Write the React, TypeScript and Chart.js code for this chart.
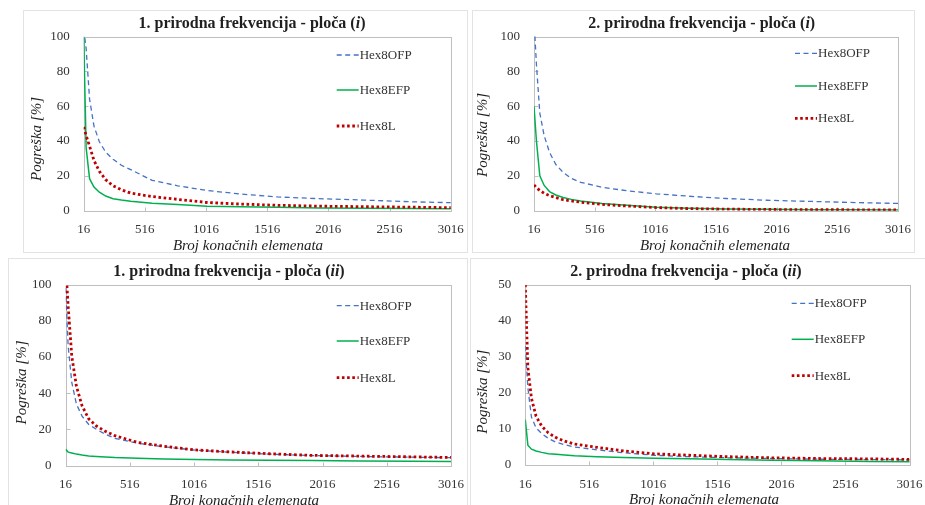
import React, { useEffect, useRef } from 'react';
import { Chart, registerables } from 'chart.js';

Chart.register(...registerables);

// ---------- data ----------
const elementCounts = [16, 36, 64, 100, 144, 196, 256, 324, 400, 576, 784, 1024, 1296, 1600, 1936, 2304, 2704, 3136];
const xTickValues = [16, 516, 1016, 1516, 2016, 2516, 3016];
const xTickLabels = ['16', '516', '1016', '1516', '2016', '2516', '3016'];
const seriesNames = ['Hex8OFP', 'Hex8EFP', 'Hex8L'];

// 1. prirodna frekvencija - ploča (i)
const p1OFP = [104, 93, 64, 48.5, 39.5, 33.5, 29.5, 26, 23.5, 17.3, 14.2, 11.5, 9.5, 7.8, 6.8, 6.0, 5.0, 4.3];
const p1EFP = [100, 36, 18.3, 13.5, 10.5, 8.3, 6.8, 6.0, 5.3, 4.2, 3.4, 2.5, 2.1, 1.8, 1.5, 1.3, 1.15, 1.0];
const p1L = [48, 43, 37, 28.8, 22.5, 17.7, 14.2, 11.9, 10, 8.0, 6.4, 4.6, 3.7, 3.0, 2.5, 2.2, 1.9, 1.5];

// 2. prirodna frekvencija - ploča (i)
const p2OFP = [110, 84, 56, 43, 33.5, 26.5, 22, 18.5, 16.3, 13.5, 11.4, 9.7, 8.3, 7.0, 6.0, 5.3, 4.6, 4.0];
const p2EFP = [60, 40, 20, 14.5, 11, 9, 7.6, 6.5, 5.6, 4.2, 3.1, 2.0, 1.4, 1.0, 0.8, 0.6, 0.5, 0.4];
const p2L = [14.8, 13.2, 11.6, 10.0, 8.6, 7.5, 6.3, 5.6, 4.9, 3.6, 2.7, 1.8, 1.2, 0.9, 0.7, 0.6, 0.5, 0.4];

// 1. prirodna frekvencija - ploča (ii)
const p3OFP = [98, 66, 46, 34, 27.3, 22.7, 20, 17.3, 15, 12.3, 10.3, 8.5, 7.3, 6.3, 5.5, 5.0, 4.6, 4.2];
const p3EFP = [9.0, 7.4, 6.9, 6.3, 5.8, 5.3, 5.0, 4.7, 4.4, 4.0, 3.6, 3.3, 3.1, 2.9, 2.7, 2.5, 2.3, 2.2];
const p3L = [111, 88, 60.5, 43.9, 33, 25.8, 21.8, 19, 16.5, 12.8, 10.6, 8.6, 7.5, 6.5, 5.6, 5.2, 4.8, 4.3];

// 2. prirodna frekvencija - ploča (ii)
const p4OFP = [33, 21.5, 13.3, 10.3, 8.7, 7.4, 6.3, 5.6, 5.0, 4.2, 3.4, 2.7, 2.3, 2.0, 1.8, 1.6, 1.5, 1.4];
const p4EFP = [12.6, 5.5, 4.4, 3.9, 3.5, 3.15, 2.95, 2.75, 2.55, 2.3, 2.05, 1.85, 1.7, 1.5, 1.3, 1.15, 1.0, 0.9];
const p4L = [50, 27, 18.5, 13.5, 10.8, 8.9, 7.6, 6.6, 5.8, 4.9, 3.9, 3.1, 2.7, 2.3, 2.0, 1.8, 1.7, 1.5];

const xAxisTitle = 'Broj konačnih elemenata';
const yAxisTitle = 'Pogreška [%]';

// ---------- styles / layout ----------
const FONT = "'Liberation Serif', 'DejaVu Serif', serif";
const TEXT = '#1f1f1f';
const TICK_TEXT = '#333333';
const seriesStyles = [
  { color: '#4472C4', width: 1.3, dash: [5, 3.5], order: 3 },
  { color: '#00B050', width: 1.5, dash: [] as number[], order: 2 },
  { color: '#C00000', width: 2.8, dash: [2.6, 2.6], order: 1 },
];

const panels = [
  {
    title: [['1. prirodna frekvencija - ploča (', false], ['i', true], [')', false]],
    series: [p1OFP, p1EFP, p1L], yMax: 100, yStep: 20,
    plot: { l: 83.7, t: 36.5, r: 450.7, b: 210.5 },
    frame: { l: 23, t: 10, w: 445, h: 243 },
    titleAt: [252, 24], xTitleAt: [248, 246.5], yTitleAt: [37.5, 139],
    legend: { x: 336.7, ys: [55, 90, 126] },
  },
  {
    title: [['2. prirodna frekvencija - ploča (', false], ['i', true], [')', false]],
    series: [p2OFP, p2EFP, p2L], yMax: 100, yStep: 20,
    plot: { l: 534, t: 36.5, r: 898, b: 210.7 },
    frame: { l: 472, t: 10, w: 443, h: 243 },
    titleAt: [701.7, 24], xTitleAt: [715, 246.5], yTitleAt: [483.5, 135],
    legend: { x: 795, ys: [53.3, 86, 118.3] },
  },
  {
    title: [['1. prirodna frekvencija - ploča (', false], ['ii', true], [')', false]],
    series: [p3OFP, p3EFP, p3L], yMax: 100, yStep: 20,
    plot: { l: 65.6, t: 284.7, r: 451, b: 465.5 },
    frame: { l: 8, t: 258, w: 460, h: 260 },
    titleAt: [229, 271.7], xTitleAt: [244, 501.5], yTitleAt: [21.7, 382.5],
    legend: { x: 336.7, ys: [305.7, 341, 377.7] },
  },
  {
    title: [['2. prirodna frekvencija - ploča (', false], ['ii', true], [')', false]],
    series: [p4OFP, p4EFP, p4L], yMax: 50, yStep: 10,
    plot: { l: 525.3, t: 284.7, r: 909.5, b: 465 },
    frame: { l: 470, t: 258, w: 470, h: 260 },
    titleAt: [686, 271.7], xTitleAt: [704, 500], yTitleAt: [482.7, 391.7],
    legend: { x: 791.7, ys: [303.3, 339.3, 375.7] },
  },
];

const decorPlugin = {
  id: 'panelDecor',
  beforeDatasetsDraw(chart: any, _args: any, opts: any) {
    const { ctx, chartArea: a } = chart;
    const xs = chart.scales.x;
    const ys = chart.scales.y;
    ctx.save();
    ctx.strokeStyle = '#bfbfbf';
    ctx.lineWidth = 1;
    const L = Math.round(a.left) + 0.5;
    const T = Math.round(a.top) + 0.5;
    const R = Math.round(a.right) + 0.5;
    const B = Math.round(a.bottom) + 0.5;
    ctx.strokeRect(L, T, R - L, B - T);
    ctx.beginPath();
    xs.ticks.forEach((t: any) => {
      const px = Math.round(xs.getPixelForValue(t.value)) + 0.5;
      ctx.moveTo(px, B);
      ctx.lineTo(px, B - 4);
    });
    ys.ticks.forEach((t: any) => {
      const py = Math.round(ys.getPixelForValue(t.value)) + 0.5;
      ctx.moveTo(L, py);
      ctx.lineTo(L + 4, py);
    });
    ctx.stroke();
    ctx.restore();
  },
  afterDraw(chart: any, _args: any, opts: any) {
    const { ctx } = chart;
    ctx.save();
    ctx.textBaseline = 'middle';
    ctx.fillStyle = TEXT;
    // title with mixed styles
    const parts = opts.title as [string, boolean][];
    const fontFor = (it: boolean) => `${it ? 'italic ' : ''}bold 16px ${FONT}`;
    let total = 0;
    const widths = parts.map(([s, it]) => {
      ctx.font = fontFor(it);
      const w = ctx.measureText(s).width;
      total += w;
      return w;
    });
    let x = opts.titleAt[0] - total / 2;
    ctx.textAlign = 'left';
    parts.forEach(([s, it], i) => {
      ctx.font = fontFor(it);
      ctx.fillText(s, x, opts.titleAt[1]);
      x += widths[i];
    });
    // axis titles
    ctx.font = `italic 15px ${FONT}`;
    ctx.textAlign = 'center';
    ctx.fillText(xAxisTitle, opts.xTitleAt[0], opts.xTitleAt[1]);
    ctx.save();
    ctx.translate(opts.yTitleAt[0], opts.yTitleAt[1]);
    ctx.rotate(-Math.PI / 2);
    ctx.fillText(yAxisTitle, 0, 0);
    ctx.restore();
    // legend
    ctx.font = `13px ${FONT}`;
    ctx.textAlign = 'left';
    chart.data.datasets.forEach((ds: any, i: number) => {
      const y = opts.legend.ys[i];
      const lx = opts.legend.x;
      ctx.save();
      ctx.strokeStyle = ds.borderColor;
      ctx.lineWidth = ds.borderWidth;
      ctx.setLineDash(ds.borderDash || []);
      ctx.beginPath();
      ctx.moveTo(lx, y);
      ctx.lineTo(lx + 22, y);
      ctx.stroke();
      ctx.restore();
      ctx.fillStyle = TICK_TEXT;
      ctx.fillText(ds.label, lx + 23, y + 0.5);
    });
    ctx.restore();
  },
};

function Panel({ cfg }: { cfg: any }) {
  const ref = useRef<HTMLCanvasElement>(null);
  useEffect(() => {
    const p = cfg.plot;
    const Y_W = 50;
    const X_H = 30;
    const chart = new Chart(ref.current as HTMLCanvasElement, {
      type: 'line',
      data: {
        datasets: cfg.series.map((arr: number[], i: number) => ({
          label: seriesNames[i],
          data: elementCounts.map((x, j) => ({ x, y: arr[j] })),
          borderColor: seriesStyles[i].color,
          borderWidth: seriesStyles[i].width,
          borderDash: seriesStyles[i].dash,
          order: seriesStyles[i].order,
          pointRadius: 0,
          pointHoverRadius: 0,
          tension: 0,
          fill: false,
          clip: 0,
        })),
      },
      options: {
        animation: false,
        responsive: false,
        devicePixelRatio: 1,
        events: [],
        layout: {
          padding: { left: p.l - Y_W, top: p.t, right: 925 - p.r, bottom: 505 - p.b - X_H },
        },
        plugins: {
          legend: { display: false },
          title: { display: false },
          tooltip: { enabled: false },
          panelDecor: {
            title: cfg.title, titleAt: cfg.titleAt, xTitleAt: cfg.xTitleAt,
            yTitleAt: cfg.yTitleAt, legend: cfg.legend,
          },
        } as any,
        scales: {
          x: {
            type: 'linear',
            min: 16,
            max: 3016,
            grid: { display: false, drawTicks: false },
            border: { display: false },
            afterBuildTicks: (s: any) => { s.ticks = xTickValues.map((value) => ({ value })); },
            afterFit: (s: any) => { s.height = X_H; s.paddingLeft = 0; s.paddingRight = 0; },
            ticks: {
              autoSkip: false,
              maxRotation: 0,
              padding: 11.5,
              color: TICK_TEXT,
              font: { family: FONT, size: 13 },
              callback: (_v: any, i: number) => xTickLabels[i],
            },
          },
          y: {
            type: 'linear',
            min: 0,
            max: cfg.yMax,
            grid: { display: false, drawTicks: false },
            border: { display: false },
            afterFit: (s: any) => { s.width = Y_W; s.paddingTop = 0; s.paddingBottom = 0; },
            ticks: {
              stepSize: cfg.yStep,
              padding: 14,
              color: TICK_TEXT,
              font: { family: FONT, size: 13 },
            },
          },
        },
      },
      plugins: [decorPlugin],
    } as any);
    return () => chart.destroy();
  }, [cfg]);
  return (
    <canvas
      ref={ref}
      width={925}
      height={505}
      style={{ position: 'absolute', left: 0, top: 0, width: 925, height: 505 }}
    />
  );
}

export default function App() {
  return (
    <div
      style={{
        position: 'fixed', left: 0, top: 0, width: 925, height: 505,
        overflow: 'hidden', background: '#ffffff',
      }}
    >
      {panels.map((cfg, i) => (
        <div
          key={'f' + i}
          style={{
            position: 'absolute', left: cfg.frame.l, top: cfg.frame.t,
            width: cfg.frame.w, height: cfg.frame.h,
            border: '1px solid #e3e3e3', boxSizing: 'border-box',
          }}
        />
      ))}
      {panels.map((cfg, i) => (
        <Panel key={'p' + i} cfg={cfg} />
      ))}
    </div>
  );
}
